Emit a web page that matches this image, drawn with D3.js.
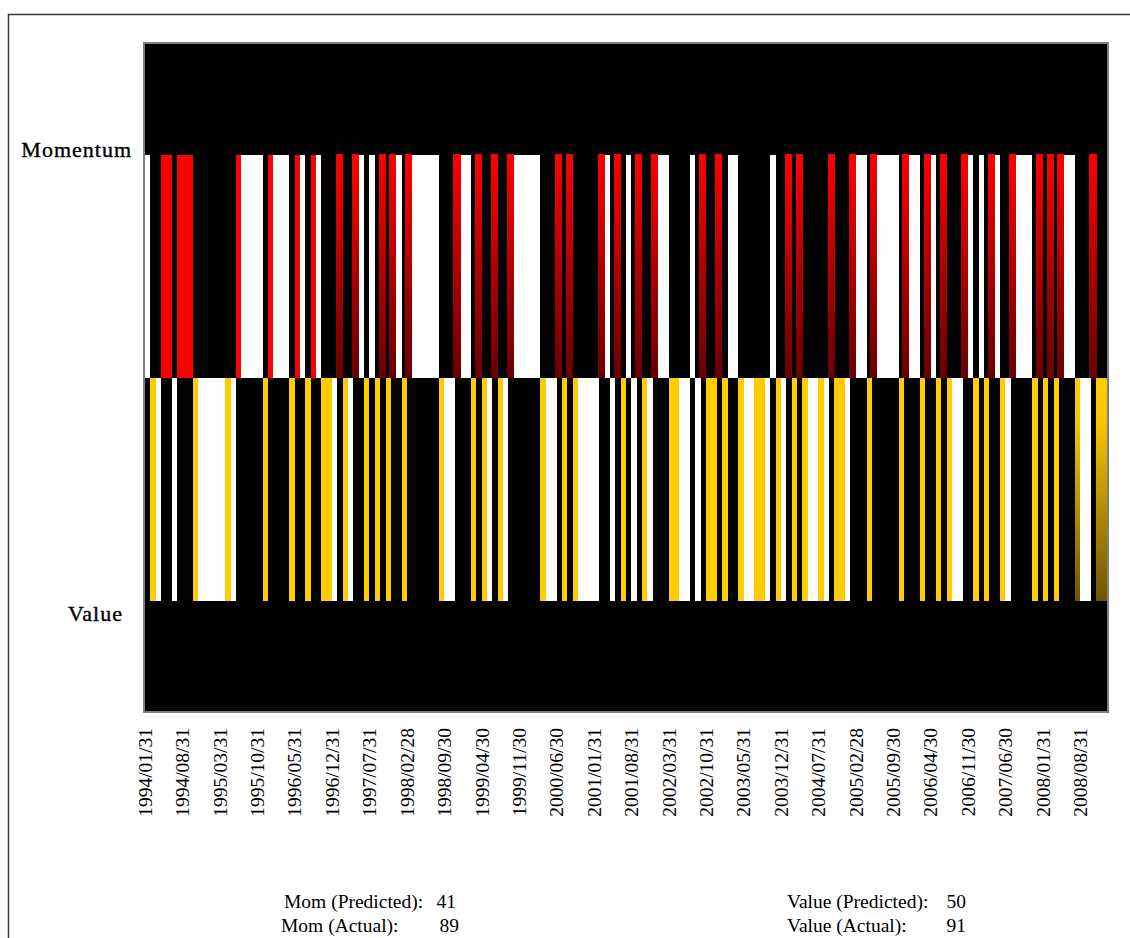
<!DOCTYPE html>
<html>
<head>
<meta charset="utf-8">
<script src="https://cdn.jsdelivr.net/npm/d3@7"></script>
<style>
  html, body { margin: 0; padding: 0; background: #ffffff; overflow: hidden; }
  svg { display: block; }
</style>
</head>
<body>
<svg id="chart" width="1130" height="938"></svg>
<script>
// Monthly signal codes, 12 per calendar year (Jan..Dec).
// W = white, B = black, R = red, G = shaded red, Y = gold, D = shaded gold
const years = [1994, 1995, 1996, 1997, 1998, 1999, 2000, 2001, 2002, 2003, 2004, 2005, 2006, 2007, 2008];

const momentumCodes = [
  "WBBRRBRRRBBB", // 1994
  "BBBBBRWWWWBR", // 1995
  "WWWBRWBRWBBB", // 1996
  "GBBGWBWBGBGW", // 1997
  "BGWWWWWBBBGW", // 1998
  "WBGBBGBBGWWW", // 1999
  "WWBBBGBGBBBB", // 2000
  "BGWBGBWBGBBG", // 2001
  "WWBBBBWBGBBG", // 2002
  "BWWBBBBBBWBB", // 2003
  "GBGBBBBBGBBB", // 2004
  "GWWBGWWWWBGW", // 2005
  "WBGWBGBBBGWB", // 2006
  "WBGWBBGWWWBG", // 2007
  "BGBGWWBBBGBB"  // 2008
];

const valueCodes = [
  "BYWBBWBBBYWW", // 1994
  "WWWYWBBBBBYB", // 1995
  "BBBYBBYBBYYW", // 1996
  "BYWBBYBYBYBB", // 1997
  "YBBBBBBYWWBB", // 1998
  "BYBYWBYWBBBB", // 1999
  "BBYWWBYBYWWW", // 2000
  "WBBWBYBWBYWB", // 2001
  "BBYYWWBWBYYB", // 2002
  "YBBYWWYYWBYW", // 2003
  "BYBYWWYWBYYW", // 2004
  "BBBYBBBBBYBB", // 2005
  "BYBBYBYWWBBY", // 2006
  "BYBBYWBBBBYB", // 2007
  "YBYBBBDWWBDD"  // 2008
];

const tickLabels = [
  "1994/01/31", "1994/08/31", "1995/03/31", "1995/10/31", "1996/05/31", "1996/12/31",
  "1997/07/31", "1998/02/28", "1998/09/30", "1999/04/30", "1999/11/30", "2000/06/30",
  "2001/01/31", "2001/08/31", "2002/03/31", "2002/10/31", "2003/05/31", "2003/12/31",
  "2004/07/31", "2005/02/28", "2005/09/30", "2006/04/30", "2006/11/30", "2007/06/30",
  "2008/01/31", "2008/08/31"
];

const rowNames = ["Momentum", "Value"];
const summaryLabels = ["Mom (Predicted):", "Mom (Actual):", "Value (Predicted):", "Value (Actual):"];
const summaryValues = [41, 89, 50, 91];

// ---- layout ----
const svg = d3.select("#chart");
const plot = { left: 144, top: 43, right: 1108, bottom: 712 };
const serif = "'Liberation Serif', 'Times New Roman', serif";

// month-end category names, e.g. 1994/01/31
const fmt = d3.timeFormat("%Y/%m/%d");
const months = years.flatMap(y => d3.range(12).map(m => fmt(new Date(y, m + 1, 0))));

const x = d3.scaleBand().domain(months).range([plot.left + 1, plot.right - 1]).padding(0);
const y = d3.scaleLinear().domain([0, 6]).range([plot.bottom, plot.top]);

// band extent of each row on the 0..6 vertical scale
const rowBand = { Momentum: [3, 5], Value: [1, 3] };
const rowCodes = { Momentum: momentumCodes.join(""), Value: valueCodes.join("") };

const defs = svg.append("defs");
function vGrad(id, stops) {
  const g = defs.append("linearGradient").attr("id", id)
    .attr("x1", 0).attr("y1", 0).attr("x2", 0).attr("y2", 1);
  stops.forEach(([o, c]) => g.append("stop").attr("offset", o).attr("stop-color", c));
}
vGrad("redShade", [["0%", "#ff0000"], ["100%", "#680000"]]);
vGrad("goldShade", [["0%", "#ffcc00"], ["20%", "#f8c600"], ["100%", "#6e5400"]]);

const fillFor = {
  W: "#ffffff", B: "#000000", R: "#ff0000", G: "url(#redShade)", Y: "#ffcc00", D: "url(#goldShade)"
};

// outer chart frame
svg.append("rect")
  .attr("x", 8.5).attr("y", 14.5).attr("width", 1300).attr("height", 1100)
  .attr("fill", "none").attr("stroke", "#3a3a3a").attr("stroke-width", 1.5);

// plot area
svg.append("rect")
  .attr("x", plot.left).attr("y", plot.top)
  .attr("width", plot.right - plot.left).attr("height", plot.bottom - plot.top)
  .attr("fill", "#000000");

// monthly bars, shaded bars drawn last and slightly wider
const order = { B: 0, W: 1, Y: 2, R: 2, D: 3, G: 3 };
rowNames.forEach(name => {
  const [lo, hi] = rowBand[name];
  const data = months.map((m, i) => ({ month: m, code: rowCodes[name][i] }))
    .sort((a, b) => order[a.code] - order[b.code]);
  svg.append("g").attr("class", "row-" + name)
    .attr("shape-rendering", "crispEdges")
    .selectAll("rect").data(data).join("rect")
    .attr("x", d => d.code === "G" ? x(d.month) - 1.5 : x(d.month))
    .attr("width", d => d.code === "G" ? x.bandwidth() + 1.7 : x.bandwidth())
    .attr("y", d => y(hi) - (d.code === "G" ? 1 : 0))
    .attr("height", d => y(lo) - y(hi) + (d.code === "G" ? 1 : 0))
    .attr("fill", d => fillFor[d.code]);
});

// plot border on top
svg.append("rect")
  .attr("x", plot.left).attr("y", plot.top)
  .attr("width", plot.right - plot.left).attr("height", plot.bottom - plot.top)
  .attr("fill", "none").attr("stroke", "#7f7f7f").attr("stroke-width", 2);

// row names
const rowLabelPos = { Momentum: { x: 132, dy: 2.5 }, Value: { x: 123, dy: 20.5 } };
svg.append("g").selectAll("text").data(rowNames).join("text")
  .attr("x", d => rowLabelPos[d].x)
  .attr("y", d => y(d === "Momentum" ? rowBand[d][1] : rowBand[d][0]) + rowLabelPos[d].dy)
  .attr("text-anchor", "end")
  .attr("font-family", serif).attr("font-size", 22).attr("letter-spacing", 1)
  .attr("stroke", "#000").attr("stroke-width", 0.35)
  .attr("fill", "#000")
  .text(d => d);

// category axis, labels at the start of each labelled month
const axis = d3.axisBottom(x).tickValues(tickLabels).tickSize(0).tickPadding(0);
const gx = svg.append("g")
  .attr("transform", `translate(${-x.bandwidth() / 2},${plot.bottom})`)
  .call(axis)
  .attr("font-family", serif).attr("font-size", 19.5);
gx.select(".domain").remove();
gx.selectAll(".tick text")
  .attr("transform", "rotate(-90)")
  .attr("x", -16).attr("y", 0).attr("dy", "0.35em")
  .attr("text-anchor", "end")
  .attr("fill", "#000");

// summary counts
const summaryPos = [
  { x: 284, vx: 456, y: 908 },
  { x: 281, vx: 459, y: 932 },
  { x: 787, vx: 966, y: 908 },
  { x: 787, vx: 966, y: 932 }
];
const gs = svg.append("g").attr("font-family", serif).attr("font-size", 19.5).attr("fill", "#000");
gs.selectAll("text.lab").data(summaryLabels).join("text").attr("class", "lab")
  .attr("x", (d, i) => summaryPos[i].x).attr("y", (d, i) => summaryPos[i].y)
  .text(d => d);
gs.selectAll("text.val").data(summaryValues).join("text").attr("class", "val")
  .attr("x", (d, i) => summaryPos[i].vx).attr("y", (d, i) => summaryPos[i].y)
  .attr("text-anchor", "end")
  .text(d => d);
</script>
</body>
</html>
